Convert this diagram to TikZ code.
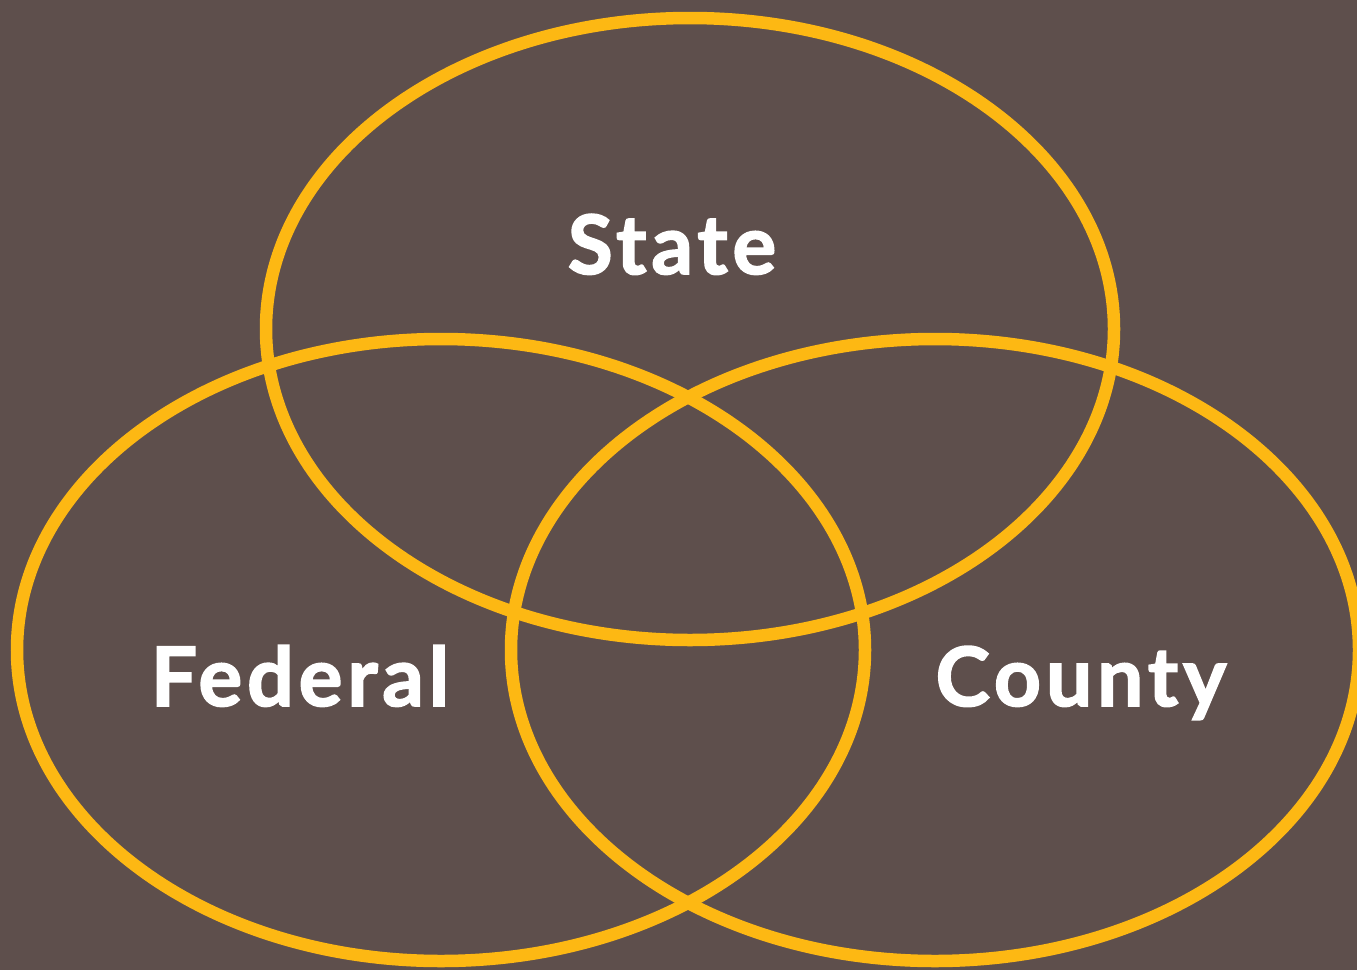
\documentclass[tikz,border=0pt]{standalone}
\usepackage{fontspec}
\setmainfont{Lato}
\newfontfamily\lblfont{Lato}[BoldFeatures={FakeBold=2,LetterSpace=6}]
\definecolor{bgc}{HTML}{5E4F4C}
\definecolor{ring}{HTML}{FDB813}
\begin{document}
\begin{tikzpicture}[x=1pt,y=-1pt,
  ringstyle/.style={draw=ring,line width=12.5pt},
  lbl/.style={text=white,font=\lblfont\bfseries\fontsize{82}{90}\selectfont,inner sep=0pt,anchor=base}]
\fill[bgc] (0,0) rectangle (1357,970);
\useasboundingbox (0,0) rectangle (1357,970);
\draw[ringstyle] (690,329) ellipse [x radius=424, y radius=311];
\draw[ringstyle] (441,650) ellipse [x radius=424, y radius=311];
\draw[ringstyle] (935,650) ellipse [x radius=424, y radius=311];
\node[lbl] (state) at (672,274) {State};
\node[lbl] (federal) at (300,706) {Federal};
\node[lbl] (county) at (1081,706) {County};
\end{tikzpicture}
\end{document}
